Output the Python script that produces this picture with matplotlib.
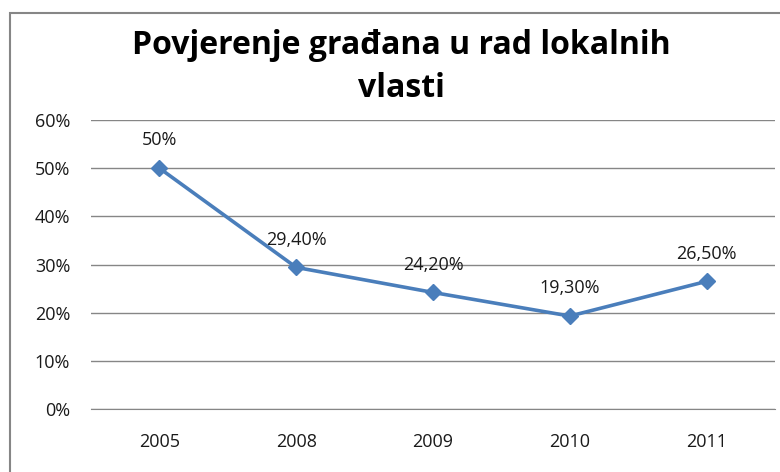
import matplotlib
matplotlib.use('Agg')
import matplotlib.pyplot as plt
from matplotlib.patches import Rectangle

godine = ['2005', '2008', '2009', '2010', '2011']
povjerenje = [50.0, 29.4, 24.2, 19.3, 26.5]
oznake = ['50%', '29,40%', '24,20%', '19,30%', '26,50%']
y_ticks = [0, 10, 20, 30, 40, 50, 60]

plt.rcParams['font.family'] = ['Open Sans', 'DejaVu Sans']

fig = plt.figure(figsize=(7.8, 4.72), dpi=100)
ax = fig.add_axes([91 / 780, 63 / 472, 684 / 780, 289 / 472])

# okvir grafikona (izlazi izvan slike desno i dolje)
fig.patches.append(Rectangle((10 / 780, -0.1), 1.0, (472 - 13) / 472 + 0.1,
                             transform=fig.transFigure, fill=False,
                             edgecolor='#868686', linewidth=1.5))

x = range(len(godine))
ax.plot(x, povjerenje, color='#4a7ebb', linewidth=2.6, marker='D',
        markersize=8, zorder=3)

for i, (v, t) in enumerate(zip(povjerenje, oznake)):
    ax.annotate(t, (i, v), xytext=(0, 20), textcoords='offset points',
                ha='center', va='center', fontsize=13, color='#1a1a1a')

ax.set_xlim(-0.5, len(godine) - 0.5)
ax.set_ylim(0, 60)
ax.set_yticks(y_ticks)
ax.set_yticklabels([f'{v}%' for v in y_ticks])
ax.set_xticks(list(x))
ax.set_xticklabels(godine)
ax.tick_params(axis='both', length=0, labelsize=13, labelcolor='#1a1a1a')
ax.tick_params(axis='y', pad=15)
ax.tick_params(axis='x', pad=17)
ax.grid(axis='y', color='#868686', linewidth=1)
ax.set_axisbelow(True)
for s in ['top', 'right', 'left']:
    ax.spines[s].set_visible(False)
ax.spines['bottom'].set_color('#868686')

fig.text(401 / 780, 1 - 67 / 472, 'Povjerenje građana u rad lokalnih\nvlasti',
         ha='center', va='center', fontsize=23, fontweight='bold',
         linespacing=1.38, color='black')

fig.savefig('out.png', dpi=100)
